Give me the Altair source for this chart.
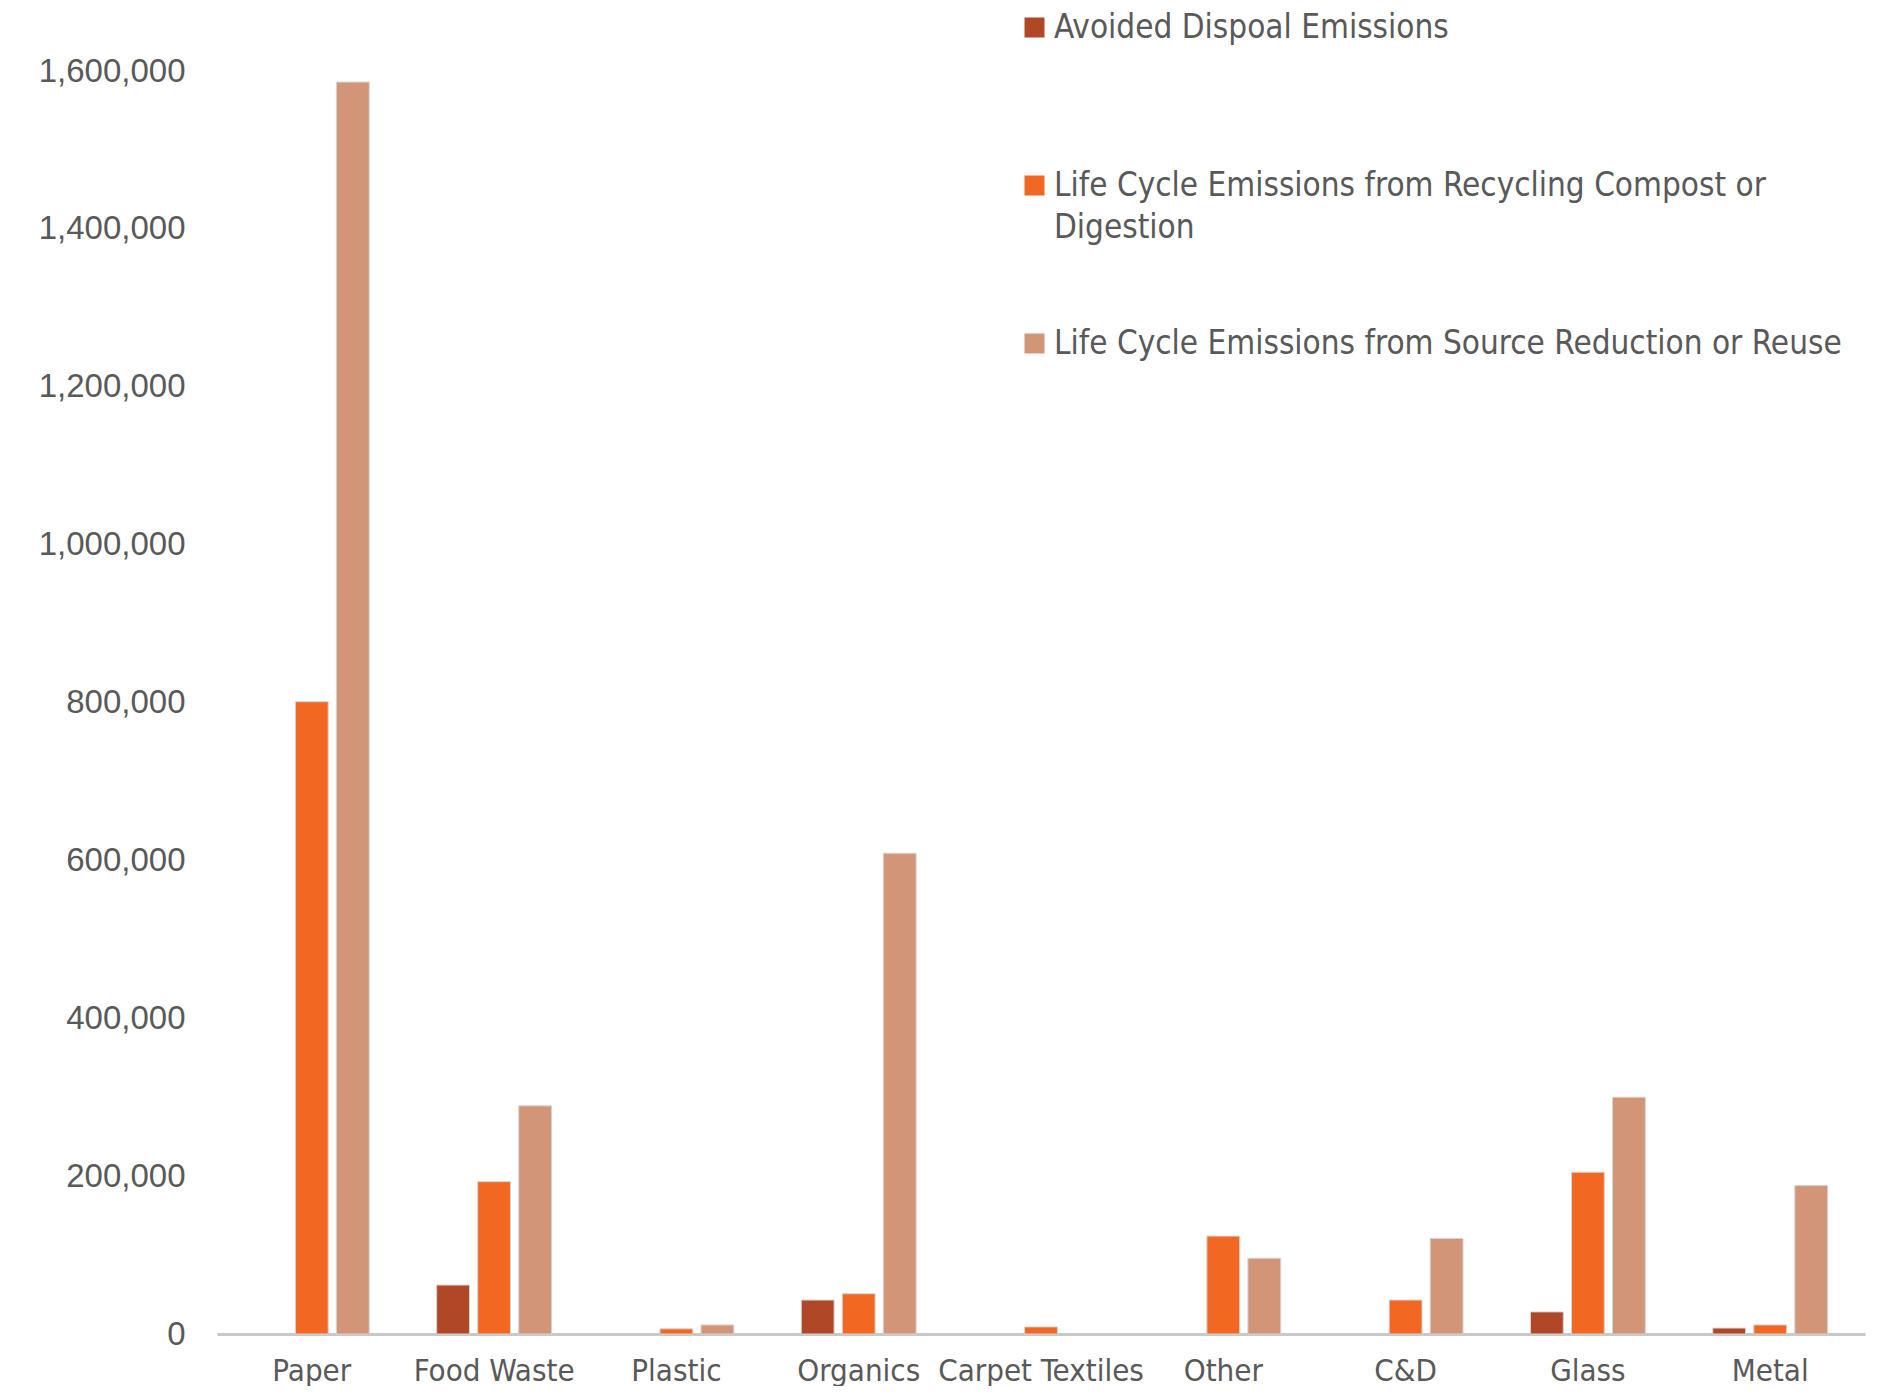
import altair as alt
import pandas as pd

categories = ["Paper", "Food Waste", "Plastic", "Organics", "Carpet Textiles",
              "Other", "C&D", "Glass", "Metal"]
series = ["Avoided Dispoal Emissions",
          "Life Cycle Emissions from Recycling Compost or Digestion",
          "Life Cycle Emissions from Source Reduction or Reuse"]
avoided = [0, 62000, 0, 43000, 0, 0, 0, 28000, 7500]
recycling = [801000, 193000, 6500, 51000, 9000, 124000, 43000, 205000, 11500]
source = [1586000, 289000, 11500, 609000, 0, 96000, 121000, 300000, 188000]
colors = ["#B04726", "#F26722", "#D29577"]
y_ticks = [0, 200000, 400000, 600000, 800000, 1000000, 1200000, 1400000, 1600000]

rows = []
for s, vals in zip(series, [avoided, recycling, source]):
    for c, v in zip(categories, vals):
        rows.append({"category": c, "series": s, "value": v})
df = pd.DataFrame(rows)

narrow = "DejaVu Sans Condensed"
label_expr = ("datum.label == 'Life Cycle Emissions from Recycling Compost or Digestion' ? "
              "['Life Cycle Emissions from Recycling Compost or', 'Digestion'] : "
              "(datum.label == 'Avoided Dispoal Emissions' ? ['Avoided Dispoal Emissions', ''] : datum.label)")

chart = alt.Chart(df).transform_filter("datum.value > 0").mark_bar(
    stroke="#d4d4d4", strokeWidth=1
).encode(
    x=alt.X("category:N", sort=categories,
            scale=alt.Scale(paddingInner=0.37, paddingOuter=0.205),
            axis=alt.Axis(title=None, labelAngle=0, labelFont=narrow, labelFontSize=31,
                          labelLineHeight=31,
                          labelColor="#595959", labelPadding=22, labelLimit=400,
                          ticks=False, domainColor="#c8c8c8", domainWidth=3, grid=False)),
    xOffset=alt.XOffset("series:N", sort=series,
                        scale=alt.Scale(paddingInner=0.2, paddingOuter=0)),
    y=alt.Y("value:Q", scale=alt.Scale(domain=[0, 1600000], nice=False),
            axis=alt.Axis(title=None, values=y_ticks, format=",.0f",
                          labelFont="Liberation Sans", labelFontSize=33,
                          labelColor="#595959", labelPadding=32, ticks=False,
                          domain=False, grid=False)),
    color=alt.Color("series:N", sort=series,
                    scale=alt.Scale(domain=series, range=colors),
                    legend=alt.Legend(title=None, orient="none", legendX=801, legendY=-60,
                                      direction="vertical", symbolType="square",
                                      symbolSize=400, symbolStrokeWidth=0,
                                      labelFont=narrow, labelFontSize=33,
                                      labelColor="#595959", labelLimit=900,
                                      labelOffset=3, rowPadding=82, padding=0,
                                      labelExpr=label_expr))
).properties(
    width=1648, height=1263,
    autosize=alt.AutoSizeParams(type="none"),
    padding={"left": 209, "top": 63, "right": 22, "bottom": 52}
).configure(
    style={"guide-label": {"lineHeight": 42}}
).configure_view(stroke=None)

chart.save("out.html", embed_options={"renderer": "svg", "actions": False})
